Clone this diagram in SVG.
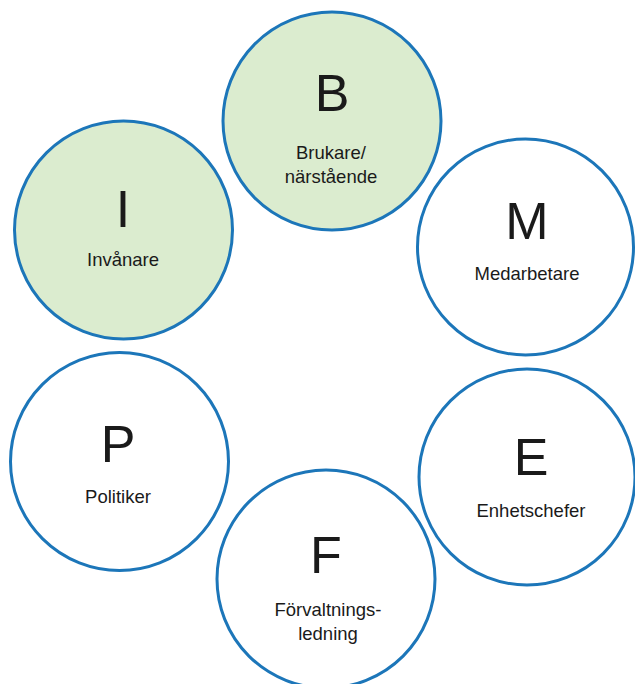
<svg xmlns="http://www.w3.org/2000/svg" width="635" height="684" viewBox="0 0 635 684">
<style>
.c{stroke:#1c76b9;stroke-width:3;fill:#ffffff}
.g{fill:#dbeccf}
.big{font-family:"Liberation Sans",Arial,sans-serif;font-size:52px;fill:#1a1a1a;text-anchor:middle}
.lbl{font-family:"Liberation Sans",Arial,sans-serif;font-size:18.5px;fill:#1a1a1a;text-anchor:middle}
</style>
<rect width="635" height="684" fill="#ffffff"/>
<g id="connectors"></g>
<g id="node-B">
<circle class="c g" cx="332" cy="121" r="109"/>
<text class="big" x="332" y="111">B</text>
<text class="lbl" x="331" y="159">Brukare/</text>
<text class="lbl" x="331" y="183">närstående</text>
</g>
<g id="node-I">
<circle class="c g" cx="123.5" cy="230" r="109"/>
<text class="big" x="123" y="227">I</text>
<text class="lbl" x="123" y="266">Invånare</text>
</g>
<g id="node-M">
<circle class="c" cx="525.5" cy="247" r="108"/>
<text class="big" x="527" y="239">M</text>
<text class="lbl" x="527" y="280">Medarbetare</text>
</g>
<g id="node-P">
<circle class="c" cx="119.5" cy="461.5" r="109"/>
<text class="big" x="118" y="462">P</text>
<text class="lbl" x="118" y="503">Politiker</text>
</g>
<g id="node-E">
<circle class="c" cx="527" cy="477" r="108"/>
<text class="big" x="531" y="475">E</text>
<text class="lbl" x="531" y="517">Enhetschefer</text>
</g>
<g id="node-F">
<circle class="c" cx="326" cy="579" r="109"/>
<text class="big" x="326" y="573">F</text>
<text class="lbl" x="328" y="616">Förvaltnings-</text>
<text class="lbl" x="328" y="640">ledning</text>
</g>
</svg>
